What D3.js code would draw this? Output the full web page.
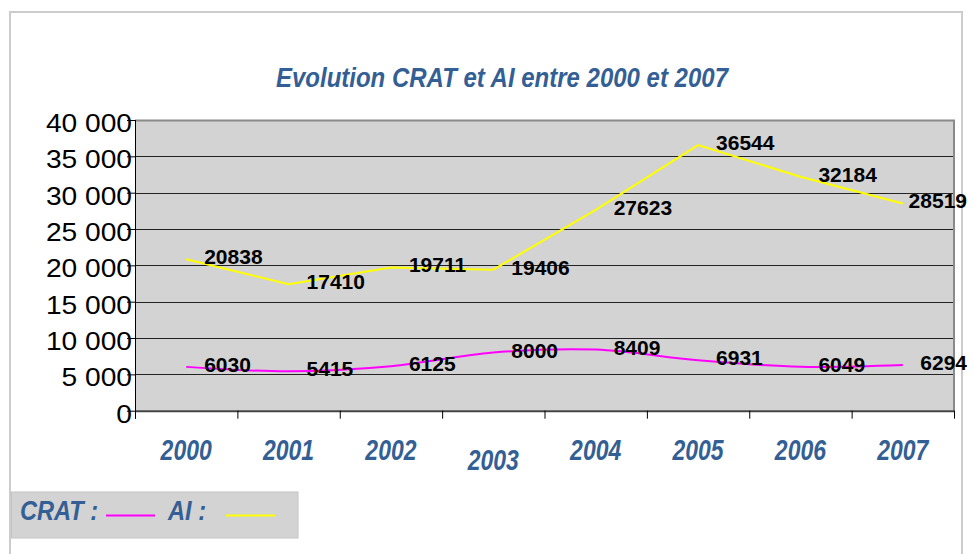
<!DOCTYPE html>
<html>
<head>
<meta charset="utf-8">
<script src="https://cdn.jsdelivr.net/npm/d3@7"></script>
<style>
  body { margin: 0; background: #fff; }
  svg { display: block; font-family: "Liberation Sans", Arial, sans-serif; }
</style>
</head>
<body>
<div id="chart"></div>
<script>
const years = ['2000', '2001', '2002', '2003', '2004', '2005', '2006', '2007'];
const crat = [6030, 5415, 6125, 8000, 8409, 6931, 6049, 6294];
const ai = [20838, 17410, 19711, 19406, 27623, 36544, 32184, 28519];
const yTicks = [0, 5000, 10000, 15000, 20000, 25000, 30000, 35000, 40000];
const titleText = 'Evolution CRAT et AI entre 2000 et 2007';

const width = 974, height = 554;
const plot = { left: 135, right: 954, top: 120, bottom: 410.7 };
const blue = '#335f94';
const chartRight = 967;

const svg = d3.select('#chart').append('svg')
  .attr('width', width)
  .attr('height', height);

// clip everything to the chart area
svg.append('clipPath').attr('id', 'area')
  .append('rect').attr('x', 0).attr('y', 0).attr('width', chartRight).attr('height', height);

const root = svg.append('g').attr('clip-path', 'url(#area)');

// outer frame
root.append('rect')
  .attr('x', 10).attr('y', 12)
  .attr('width', 952).attr('height', 600)
  .attr('fill', '#fff')
  .attr('stroke', '#cccccc')
  .attr('stroke-width', 2);

// title (text in the picture is a bit taller than wide)
root.append('text')
  .attr('transform', 'translate(502,86.5) scale(1,1.16)')
  .attr('text-anchor', 'middle')
  .attr('font-size', 24)
  .attr('font-weight', 'bold')
  .attr('font-style', 'italic')
  .attr('fill', blue)
  .text(titleText);

const x = d3.scaleBand().domain(years).range([plot.left, plot.right]);
const xEdge = d3.scaleLinear().domain([0, years.length]).range([plot.left, plot.right]);
const y = d3.scaleLinear().domain([0, 40000]).range([plot.bottom, plot.top]);
const cx = d => x(d) + x.bandwidth() / 2;

// plot area
root.append('rect')
  .attr('x', plot.left).attr('y', plot.top)
  .attr('width', plot.right - plot.left).attr('height', plot.bottom - plot.top)
  .attr('fill', '#d3d3d3');

// gridlines
root.append('g')
  .selectAll('line')
  .data(yTicks.filter(t => t > 0 && t < 40000))
  .enter()
  .append('line')
  .attr('x1', plot.left).attr('x2', plot.right)
  .attr('y1', d => Math.round(y(d)) + 0.5).attr('y2', d => Math.round(y(d)) + 0.5)
  .attr('stroke', '#222')
  .attr('stroke-width', 1);

// plot border (top, right)
root.append('path')
  .attr('d', `M${plot.left},${plot.top + 0.5}H${plot.right}V${plot.bottom}`)
  .attr('fill', 'none')
  .attr('stroke', '#8a8a8a')
  .attr('stroke-width', 2);

// Y axis
const fmt = d3.formatLocale({ decimal: ',', thousands: ' ', grouping: [3], currency: ['', ''] }).format(',');
const yAxis = root.append('g')
  .attr('transform', `translate(${plot.left},0)`)
  .call(d3.axisLeft(y).tickValues(yTicks).tickSize(8).tickSizeOuter(0).tickFormat(fmt));
yAxis.select('.domain').remove();
yAxis.selectAll('.tick line').attr('stroke', '#000');
yAxis.selectAll('.tick text')
  .attr('x', null).attr('dy', null)
  .attr('font-family', '"Liberation Sans", Arial, sans-serif')
  .attr('font-size', 25.6)
  .attr('fill', '#000')
  .attr('transform', 'translate(-3,11.5) scale(1.1,1)');
root.append('line')
  .attr('x1', plot.left + 0.5).attr('x2', plot.left + 0.5)
  .attr('y1', plot.top).attr('y2', plot.bottom + 8)
  .attr('stroke', '#000');

// X axis: ticks at category boundaries
const xAxis = root.append('g')
  .attr('transform', `translate(0,${plot.bottom})`)
  .call(d3.axisBottom(xEdge).tickValues(d3.range(years.length + 1)).tickSize(8).tickSizeOuter(0).tickFormat(''));
xAxis.select('.domain').attr('stroke', '#444').attr('stroke-width', 2);
xAxis.selectAll('.tick line').attr('stroke', '#000');

root.append('g')
  .selectAll('text')
  .data(years)
  .enter()
  .append('text')
  .attr('transform', d => `translate(${cx(d)},${d === '2003' ? 470 : 460}) scale(1,1.26)`)
  .attr('text-anchor', 'middle')
  .attr('font-size', 23)
  .attr('font-weight', 'bold')
  .attr('font-style', 'italic')
  .attr('fill', blue)
  .text(d => d);

// lines
const series = [
  { name: 'CRAT', values: crat, color: '#ff00ff', curve: d3.curveCatmullRom },
  { name: 'AI', values: ai, color: '#ffff00', curve: d3.curveLinear }
];

series.forEach(s => {
  const line = d3.line()
    .x((d, i) => cx(years[i]))
    .y(d => y(d))
    .curve(s.curve);
  root.append('path')
    .datum(s.values)
    .attr('fill', 'none')
    .attr('stroke', s.color)
    .attr('stroke-width', 2)
    .attr('d', line);
});

// data labels
series.forEach(s => {
  root.append('g')
    .selectAll('text')
    .data(s.values)
    .enter()
    .append('text')
    .attr('y', d => y(d) + 5)
    .attr('font-size', 21)
    .attr('font-weight', 'bold')
    .attr('fill', '#000')
    .text(d => d)
    .attr('x', function (d, i) {
      const w = this.getComputedTextLength();
      return Math.min(cx(years[i]) + 18, chartRight - w);
    });
});

// legend
const legend = root.append('g');
legend.append('rect')
  .attr('x', 11.5).attr('y', 492)
  .attr('width', 286.5).attr('height', 46)
  .attr('fill', '#d3d3d3')
  .attr('stroke', '#c4c4c4');
const legendItems = [
  { label: 'CRAT :', color: '#ff00ff', tx: 20, x1: 106, x2: 155 },
  { label: 'AI :', color: '#ffff00', tx: 168, x1: 226, x2: 275 }
];
legendItems.forEach(it => {
  legend.append('text')
    .attr('transform', `translate(${it.tx},520) scale(1,1.15)`)
    .attr('font-size', 23.6)
    .attr('font-weight', 'bold')
    .attr('font-style', 'italic')
    .attr('fill', blue)
    .text(it.label);
  legend.append('line')
    .attr('x1', it.x1).attr('x2', it.x2)
    .attr('y1', 515.5).attr('y2', 515.5)
    .attr('stroke', it.color)
    .attr('stroke-width', 2);
});
</script>
</body>
</html>
